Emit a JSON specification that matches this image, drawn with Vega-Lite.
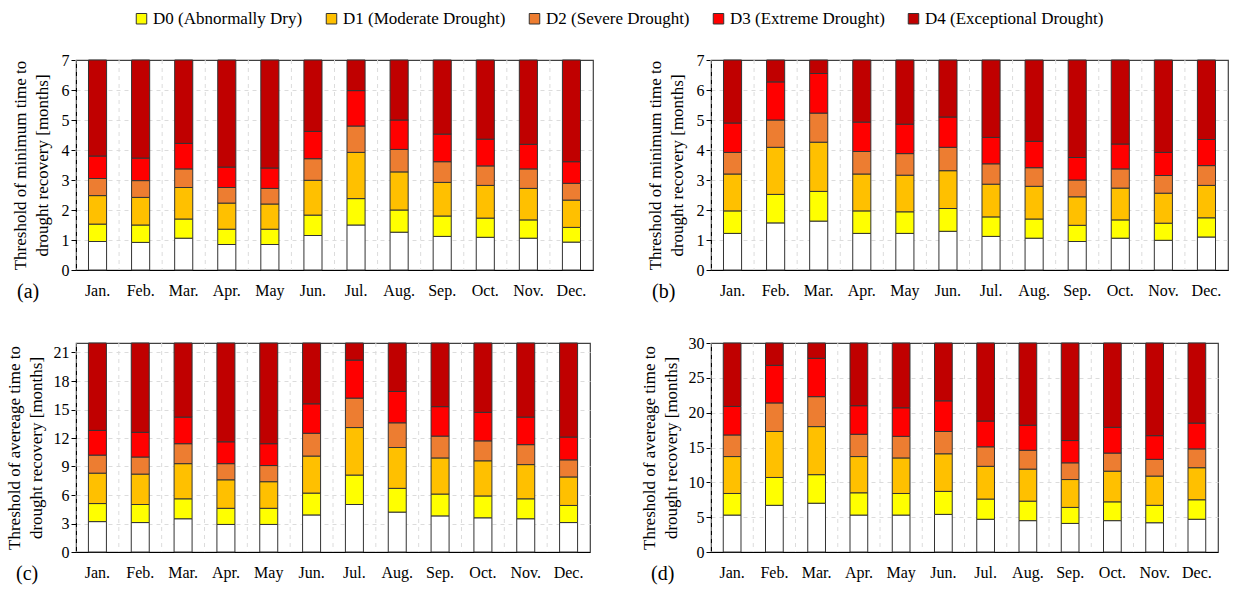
{
  "$schema": "https://vega.github.io/schema/vega-lite/v6.json",
  "padding": {"left": 4, "top": 10, "right": 5, "bottom": 0},
  "background": "white",
  "config": {
    "font": "Liberation Serif",
    "view": {"stroke": "#404040", "strokeWidth": 1.2},
    "axis": {"labelFont": "Liberation Serif", "titleFont": "Liberation Serif", "labelColor": "#000", "titleColor": "#000", "domainColor": "#000", "tickColor": "#000", "titleFontWeight": "normal"},
    "axisY": {"labelOverlap": false, "titleLineHeight": 22, "titleFontSize": 17, "labelFontSize": 16, "tickSize": 5, "grid": true, "gridDash": [4, 4], "gridColor": "#dcdcdc", "titlePadding": 10},
    "legend": {"labelFont": "Liberation Serif"},
    "bar": {"stroke": "#333", "strokeWidth": 1}
  },
  "datasets": {
    "a": [
      {"m": "Jan.", "W": 0.95, "D0": 1.53, "D1": 2.48, "D2": 3.05, "D3": 3.8, "D4": 7},
      {"m": "Feb.", "W": 0.92, "D0": 1.5, "D1": 2.42, "D2": 2.98, "D3": 3.73, "D4": 7},
      {"m": "Mar.", "W": 1.06, "D0": 1.7, "D1": 2.75, "D2": 3.37, "D3": 4.22, "D4": 7},
      {"m": "Apr.", "W": 0.85, "D0": 1.36, "D1": 2.23, "D2": 2.75, "D3": 3.43, "D4": 7},
      {"m": "May", "W": 0.85, "D0": 1.36, "D1": 2.2, "D2": 2.72, "D3": 3.4, "D4": 7},
      {"m": "Jun.", "W": 1.15, "D0": 1.83, "D1": 2.99, "D2": 3.71, "D3": 4.62, "D4": 7},
      {"m": "Jul.", "W": 1.5, "D0": 2.38, "D1": 3.92, "D2": 4.8, "D3": 5.98, "D4": 7},
      {"m": "Aug.", "W": 1.26, "D0": 2.0, "D1": 3.27, "D2": 4.02, "D3": 5.0, "D4": 7},
      {"m": "Sep.", "W": 1.12, "D0": 1.8, "D1": 2.92, "D2": 3.61, "D3": 4.53, "D4": 7},
      {"m": "Oct.", "W": 1.09, "D0": 1.73, "D1": 2.82, "D2": 3.47, "D3": 4.36, "D4": 7},
      {"m": "Nov.", "W": 1.06, "D0": 1.67, "D1": 2.72, "D2": 3.37, "D3": 4.19, "D4": 7},
      {"m": "Dec.", "W": 0.93, "D0": 1.42, "D1": 2.33, "D2": 2.89, "D3": 3.61, "D4": 7}
    ],
    "b": [
      {"m": "Jan.", "W": 1.22, "D0": 1.97, "D1": 3.2, "D2": 3.92, "D3": 4.9, "D4": 7},
      {"m": "Feb.", "W": 1.57, "D0": 2.52, "D1": 4.09, "D2": 5.0, "D3": 6.27, "D4": 7},
      {"m": "Mar.", "W": 1.63, "D0": 2.62, "D1": 4.26, "D2": 5.23, "D3": 6.55, "D4": 7},
      {"m": "Apr.", "W": 1.22, "D0": 1.97, "D1": 3.2, "D2": 3.95, "D3": 4.93, "D4": 7},
      {"m": "May", "W": 1.22, "D0": 1.94, "D1": 3.16, "D2": 3.88, "D3": 4.86, "D4": 7},
      {"m": "Jun.", "W": 1.29, "D0": 2.05, "D1": 3.31, "D2": 4.09, "D3": 5.1, "D4": 7},
      {"m": "Jul.", "W": 1.12, "D0": 1.77, "D1": 2.86, "D2": 3.54, "D3": 4.42, "D4": 7},
      {"m": "Aug.", "W": 1.06, "D0": 1.7, "D1": 2.79, "D2": 3.41, "D3": 4.29, "D4": 7},
      {"m": "Sep.", "W": 0.95, "D0": 1.49, "D1": 2.44, "D2": 3.0, "D3": 3.75, "D4": 7},
      {"m": "Oct.", "W": 1.06, "D0": 1.67, "D1": 2.73, "D2": 3.37, "D3": 4.2, "D4": 7},
      {"m": "Nov.", "W": 0.99, "D0": 1.56, "D1": 2.56, "D2": 3.15, "D3": 3.92, "D4": 7},
      {"m": "Dec.", "W": 1.1, "D0": 1.74, "D1": 2.82, "D2": 3.48, "D3": 4.35, "D4": 7}
    ],
    "c": [
      {"m": "Jan.", "W": 3.2, "D0": 5.1, "D1": 8.3, "D2": 10.2, "D3": 12.8, "D4": 22},
      {"m": "Feb.", "W": 3.1, "D0": 5.0, "D1": 8.2, "D2": 10.0, "D3": 12.6, "D4": 22},
      {"m": "Mar.", "W": 3.5, "D0": 5.6, "D1": 9.3, "D2": 11.4, "D3": 14.2, "D4": 22},
      {"m": "Apr.", "W": 2.9, "D0": 4.6, "D1": 7.6, "D2": 9.3, "D3": 11.6, "D4": 22},
      {"m": "May", "W": 2.9, "D0": 4.6, "D1": 7.4, "D2": 9.1, "D3": 11.4, "D4": 22},
      {"m": "Jun.", "W": 3.9, "D0": 6.2, "D1": 10.1, "D2": 12.5, "D3": 15.6, "D4": 22},
      {"m": "Jul.", "W": 5.0, "D0": 8.1, "D1": 13.1, "D2": 16.2, "D3": 20.2, "D4": 22},
      {"m": "Aug.", "W": 4.2, "D0": 6.7, "D1": 11.0, "D2": 13.6, "D3": 16.9, "D4": 22},
      {"m": "Sep.", "W": 3.8, "D0": 6.1, "D1": 9.9, "D2": 12.2, "D3": 15.3, "D4": 22},
      {"m": "Oct.", "W": 3.6, "D0": 5.9, "D1": 9.6, "D2": 11.7, "D3": 14.7, "D4": 22},
      {"m": "Nov.", "W": 3.5, "D0": 5.6, "D1": 9.2, "D2": 11.3, "D3": 14.2, "D4": 22},
      {"m": "Dec.", "W": 3.1, "D0": 4.9, "D1": 7.9, "D2": 9.7, "D3": 12.1, "D4": 22}
    ],
    "d": [
      {"m": "Jan.", "W": 5.3, "D0": 8.4, "D1": 13.7, "D2": 16.8, "D3": 20.9, "D4": 30},
      {"m": "Feb.", "W": 6.7, "D0": 10.7, "D1": 17.3, "D2": 21.4, "D3": 26.8, "D4": 30},
      {"m": "Mar.", "W": 7.0, "D0": 11.1, "D1": 18.0, "D2": 22.3, "D3": 27.8, "D4": 30},
      {"m": "Apr.", "W": 5.3, "D0": 8.5, "D1": 13.7, "D2": 16.9, "D3": 21.0, "D4": 30},
      {"m": "May", "W": 5.3, "D0": 8.4, "D1": 13.5, "D2": 16.6, "D3": 20.7, "D4": 30},
      {"m": "Jun.", "W": 5.4, "D0": 8.7, "D1": 14.1, "D2": 17.3, "D3": 21.7, "D4": 30},
      {"m": "Jul.", "W": 4.7, "D0": 7.6, "D1": 12.3, "D2": 15.1, "D3": 18.8, "D4": 30},
      {"m": "Aug.", "W": 4.5, "D0": 7.3, "D1": 11.9, "D2": 14.6, "D3": 18.2, "D4": 30},
      {"m": "Sep.", "W": 4.1, "D0": 6.4, "D1": 10.4, "D2": 12.8, "D3": 16.0, "D4": 30},
      {"m": "Oct.", "W": 4.5, "D0": 7.2, "D1": 11.6, "D2": 14.2, "D3": 17.9, "D4": 30},
      {"m": "Nov.", "W": 4.2, "D0": 6.7, "D1": 10.9, "D2": 13.3, "D3": 16.7, "D4": 30},
      {"m": "Dec.", "W": 4.7, "D0": 7.5, "D1": 12.1, "D2": 14.8, "D3": 18.5, "D4": 30}
    ]
  },
  "columns": 2,
  "bounds": "flush",
  "align": "each",
  "spacing": {"row": 73, "column": 118},
  "concat": [
    {
      "width": 517, "height": 210,
      "data": {"name": "a"},
      "title": {"text": "(a)", "orient": "bottom", "anchor": "start", "frame": "group", "dx": -59, "offset": -16, "fontSize": 20, "fontWeight": "normal", "font": "Liberation Serif", "color": "#000"},
      "encoding": {
        "x": {"field": "m", "type": "nominal", "sort": null, "scale": {"paddingInner": 0, "paddingOuter": 0}, "axis": {"title": null, "labelAngle": 0, "ticks": false, "labelPadding": 12, "labelFontSize": 16, "grid": false}},
        "y": {"field": "W", "type": "quantitative", "scale": {"domain": [0, 7]}, "axis": {"title": ["Threshold of minimum time to", "drought recovery [months]"], "values": [0, 1, 2, 3, 4, 5, 6, 7], "labelOverlap": false, "titleLineHeight": 22, "gridOpacity": {"condition": {"test": "datum.value >= 7", "value": 0}, "value": 1}, "titlePadding": 10, "encode": {"title": {"update": {"lineHeight": {"value": 22}}}}}}
      },
      "layer": [
        {"mark": {"type": "rule", "strokeDash": [4, 4], "color": "#dcdcdc", "strokeWidth": 1}, "encoding": {"x": {"field": "m", "type": "nominal", "sort": null, "bandPosition": 0}, "y": null}},
        {"mark": {"type": "bar", "fill": "white", "width": {"band": 0.42}}},
        {"mark": {"type": "bar", "width": {"band": 0.42}}, "encoding": {"y": {"field": "D0", "type": "quantitative"}, "y2": {"field": "W"}, "color": {"datum": "D0 (Abnormally Dry)"}}},
        {"mark": {"type": "bar", "width": {"band": 0.42}}, "encoding": {"y": {"field": "D1", "type": "quantitative"}, "y2": {"field": "D0"}, "color": {"datum": "D1 (Moderate Drought)"}}},
        {"mark": {"type": "bar", "width": {"band": 0.42}}, "encoding": {"y": {"field": "D2", "type": "quantitative"}, "y2": {"field": "D1"}, "color": {"datum": "D2 (Severe Drought)"}}},
        {"mark": {"type": "bar", "width": {"band": 0.42}}, "encoding": {"y": {"field": "D3", "type": "quantitative"}, "y2": {"field": "D2"}, "color": {"datum": "D3 (Extreme Drought)"}}},
        {"mark": {"type": "bar", "width": {"band": 0.42}}, "encoding": {"y": {"field": "D4", "type": "quantitative"}, "y2": {"field": "D3"}, "color": {"datum": "D4 (Exceptional Drought)", "scale": {"domain": ["D0 (Abnormally Dry)", "D1 (Moderate Drought)", "D2 (Severe Drought)", "D3 (Extreme Drought)", "D4 (Exceptional Drought)"], "range": ["#FFFF00", "#FFC000", "#ED7D31", "#FF0000", "#C00000"]}, "legend": {"title": null, "orient": "none", "direction": "horizontal", "legendX": 57, "legendY": -50, "symbolType": "square", "symbolSize": 110, "symbolStrokeColor": "#333", "symbolStrokeWidth": 1, "labelFontSize": 17, "columnPadding": 20, "labelOffset": 3, "labelColor": "#000", "labelLimit": 300}}}}
      ]
    },
    {
      "width": 517, "height": 210,
      "data": {"name": "b"},
      "title": {"text": "(b)", "orient": "bottom", "anchor": "start", "frame": "group", "dx": -59, "offset": -16, "fontSize": 20, "fontWeight": "normal", "font": "Liberation Serif", "color": "#000"},
      "encoding": {
        "x": {"field": "m", "type": "nominal", "sort": null, "scale": {"paddingInner": 0, "paddingOuter": 0}, "axis": {"title": null, "labelAngle": 0, "ticks": false, "labelPadding": 12, "labelFontSize": 16, "grid": false}},
        "y": {"field": "W", "type": "quantitative", "scale": {"domain": [0, 7]}, "axis": {"title": ["Threshold of minimum time to", "drought recovery [months]"], "values": [0, 1, 2, 3, 4, 5, 6, 7], "labelOverlap": false, "titleLineHeight": 22, "gridOpacity": {"condition": {"test": "datum.value >= 7", "value": 0}, "value": 1}, "titlePadding": 10, "encode": {"title": {"update": {"lineHeight": {"value": 22}}}}}}
      },
      "layer": [
        {"mark": {"type": "rule", "strokeDash": [4, 4], "color": "#dcdcdc", "strokeWidth": 1}, "encoding": {"x": {"field": "m", "type": "nominal", "sort": null, "bandPosition": 0}, "y": null}},
        {"mark": {"type": "bar", "fill": "white", "width": {"band": 0.42}}},
        {"mark": {"type": "bar", "width": {"band": 0.42}}, "encoding": {"y": {"field": "D0", "type": "quantitative"}, "y2": {"field": "W"}, "color": {"datum": "D0 (Abnormally Dry)"}}},
        {"mark": {"type": "bar", "width": {"band": 0.42}}, "encoding": {"y": {"field": "D1", "type": "quantitative"}, "y2": {"field": "D0"}, "color": {"datum": "D1 (Moderate Drought)"}}},
        {"mark": {"type": "bar", "width": {"band": 0.42}}, "encoding": {"y": {"field": "D2", "type": "quantitative"}, "y2": {"field": "D1"}, "color": {"datum": "D2 (Severe Drought)"}}},
        {"mark": {"type": "bar", "width": {"band": 0.42}}, "encoding": {"y": {"field": "D3", "type": "quantitative"}, "y2": {"field": "D2"}, "color": {"datum": "D3 (Extreme Drought)"}}},
        {"mark": {"type": "bar", "width": {"band": 0.42}}, "encoding": {"y": {"field": "D4", "type": "quantitative"}, "y2": {"field": "D3"}, "color": {"datum": "D4 (Exceptional Drought)"}}}
      ]
    },
    {
      "width": 514, "height": 209,
      "data": {"name": "c"},
      "title": {"text": "(c)", "orient": "bottom", "anchor": "start", "frame": "group", "dx": -60, "offset": -16, "fontSize": 20, "fontWeight": "normal", "font": "Liberation Serif", "color": "#000"},
      "encoding": {
        "x": {"field": "m", "type": "nominal", "sort": null, "scale": {"paddingInner": 0, "paddingOuter": 0}, "axis": {"title": null, "labelAngle": 0, "ticks": false, "labelPadding": 12, "labelFontSize": 16, "grid": false}},
        "y": {"field": "W", "type": "quantitative", "scale": {"domain": [0, 22]}, "axis": {"title": ["Threshold of avereage time to", "drought recovery [months]"], "values": [0, 3, 6, 9, 12, 15, 18, 21], "labelOverlap": false, "titleLineHeight": 22, "titlePadding": 8, "encode": {"title": {"update": {"lineHeight": {"value": 22}}}}}}
      },
      "layer": [
        {"mark": {"type": "rule", "strokeDash": [4, 4], "color": "#dcdcdc", "strokeWidth": 1}, "encoding": {"x": {"field": "m", "type": "nominal", "sort": null, "bandPosition": 0}, "y": null}},
        {"mark": {"type": "bar", "fill": "white", "width": {"band": 0.42}}},
        {"mark": {"type": "bar", "width": {"band": 0.42}}, "encoding": {"y": {"field": "D0", "type": "quantitative"}, "y2": {"field": "W"}, "color": {"datum": "D0 (Abnormally Dry)"}}},
        {"mark": {"type": "bar", "width": {"band": 0.42}}, "encoding": {"y": {"field": "D1", "type": "quantitative"}, "y2": {"field": "D0"}, "color": {"datum": "D1 (Moderate Drought)"}}},
        {"mark": {"type": "bar", "width": {"band": 0.42}}, "encoding": {"y": {"field": "D2", "type": "quantitative"}, "y2": {"field": "D1"}, "color": {"datum": "D2 (Severe Drought)"}}},
        {"mark": {"type": "bar", "width": {"band": 0.42}}, "encoding": {"y": {"field": "D3", "type": "quantitative"}, "y2": {"field": "D2"}, "color": {"datum": "D3 (Extreme Drought)"}}},
        {"mark": {"type": "bar", "width": {"band": 0.42}}, "encoding": {"y": {"field": "D4", "type": "quantitative"}, "y2": {"field": "D3"}, "color": {"datum": "D4 (Exceptional Drought)"}}}
      ]
    },
    {
      "width": 507, "height": 209,
      "data": {"name": "d"},
      "title": {"text": "(d)", "orient": "bottom", "anchor": "start", "frame": "group", "dx": -60, "offset": -16, "fontSize": 20, "fontWeight": "normal", "font": "Liberation Serif", "color": "#000"},
      "encoding": {
        "x": {"field": "m", "type": "nominal", "sort": null, "scale": {"paddingInner": 0, "paddingOuter": 0}, "axis": {"title": null, "labelAngle": 0, "ticks": false, "labelPadding": 12, "labelFontSize": 16, "grid": false}},
        "y": {"field": "W", "type": "quantitative", "scale": {"domain": [0, 30]}, "axis": {"title": ["Threshold of avereage time to", "drought recovery [months]"], "values": [0, 5, 10, 15, 20, 25, 30], "labelOverlap": false, "titleLineHeight": 22, "gridOpacity": {"condition": {"test": "datum.value >= 30", "value": 0}, "value": 1}, "titlePadding": 8, "encode": {"title": {"update": {"lineHeight": {"value": 22}}}}}}
      },
      "layer": [
        {"mark": {"type": "rule", "strokeDash": [4, 4], "color": "#dcdcdc", "strokeWidth": 1}, "encoding": {"x": {"field": "m", "type": "nominal", "sort": null, "bandPosition": 0}, "y": null}},
        {"mark": {"type": "bar", "fill": "white", "width": {"band": 0.42}}},
        {"mark": {"type": "bar", "width": {"band": 0.42}}, "encoding": {"y": {"field": "D0", "type": "quantitative"}, "y2": {"field": "W"}, "color": {"datum": "D0 (Abnormally Dry)"}}},
        {"mark": {"type": "bar", "width": {"band": 0.42}}, "encoding": {"y": {"field": "D1", "type": "quantitative"}, "y2": {"field": "D0"}, "color": {"datum": "D1 (Moderate Drought)"}}},
        {"mark": {"type": "bar", "width": {"band": 0.42}}, "encoding": {"y": {"field": "D2", "type": "quantitative"}, "y2": {"field": "D1"}, "color": {"datum": "D2 (Severe Drought)"}}},
        {"mark": {"type": "bar", "width": {"band": 0.42}}, "encoding": {"y": {"field": "D3", "type": "quantitative"}, "y2": {"field": "D2"}, "color": {"datum": "D3 (Extreme Drought)"}}},
        {"mark": {"type": "bar", "width": {"band": 0.42}}, "encoding": {"y": {"field": "D4", "type": "quantitative"}, "y2": {"field": "D3"}, "color": {"datum": "D4 (Exceptional Drought)"}}}
      ]
    }
  ],
  "resolve": {"scale": {"color": "shared"}}
}
